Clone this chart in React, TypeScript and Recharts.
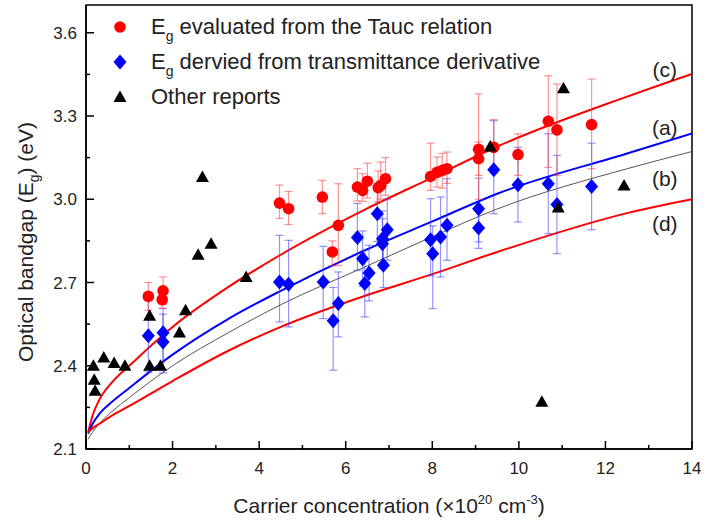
import {
  ComposedChart,
  Line,
  Scatter,
  XAxis,
  YAxis,
  ErrorBar,
  ReferenceArea,
  ReferenceDot,
  Legend,
  Label,
} from 'recharts'

const FONT = '"Liberation Sans", Arial, Helvetica, sans-serif'

// Tauc relation (red circles): carrier conc. (1e20 cm^-3), Eg (eV), error bars
const taucX = [1.44, 1.78, 1.76, 4.47, 4.68, 5.46, 5.69, 5.83, 6.27, 6.39, 6.5, 6.75, 6.81, 6.92, 7.96, 8.11, 8.23, 8.34, 9.07, 9.07, 9.42, 9.98, 10.68, 10.88, 11.68]
const taucY = [2.65, 2.67, 2.638, 2.986, 2.966, 3.008, 2.81, 2.906, 3.044, 3.032, 3.065, 3.042, 3.05, 3.074, 3.082, 3.097, 3.104, 3.11, 3.18, 3.146, 3.187, 3.161, 3.281, 3.25, 3.269]
const taucErrLow = [0.05, 0.05, 0.03, 0.055, 0.057, 0.06, 0.05, 0.145, 0.05, 0.04, 0.06, 0.05, 0.05, 0.06, 0.05, 0.053, 0.064, 0.053, 0.18, 0.06, 0.094, 0.075, 0.166, 0.164, 0.159]
const taucErrHigh = [0.05, 0.05, 0.03, 0.065, 0.062, 0.06, 0.04, 0.15, 0.066, 0.06, 0.065, 0.06, 0.084, 0.076, 0.12, 0.055, 0.061, 0.06, 0.2, 0.06, 0.1, 0.075, 0.164, 0.165, 0.164]

// transmittance derivative (blue diamonds)
const derivX = [1.44, 1.78, 1.78, 4.47, 4.68, 5.48, 5.71, 5.83, 6.27, 6.39, 6.44, 6.54, 6.73, 6.85, 6.85, 6.87, 6.96, 7.96, 8.01, 8.19, 8.34, 9.07, 9.07, 9.42, 9.98, 10.68, 10.88, 11.68]
const derivY = [2.508, 2.519, 2.486, 2.702, 2.694, 2.702, 2.562, 2.624, 2.862, 2.786, 2.696, 2.734, 2.948, 2.858, 2.84, 2.762, 2.89, 2.854, 2.804, 2.864, 2.906, 2.966, 2.896, 3.106, 3.052, 3.056, 2.981, 3.046]
const derivErrLow = [0.13, 0.145, 0.1, 0.144, 0.154, 0.132, 0.178, 0.12, 0.118, 0.1, 0.12, 0.1, 0.1, 0.1, 0.09, 0.08, 0.11, 0.13, 0.198, 0.144, 0.126, 0.12, 0.073, 0.158, 0.134, 0.18, 0.177, 0.156]
const derivErrHigh = [0.128, 0.087, 0.1, 0.168, 0.158, 0.128, 0.12, 0.114, 0.123, 0.1, 0.12, 0.1, 0.1, 0.1, 0.09, 0.08, 0.11, 0.148, 0.1, 0.144, 0.168, 0.11, 0.07, 0.177, 0.135, 0.18, 0.177, 0.156]

// other reports (black triangles)
const otherX = [0.17, 0.19, 0.21, 0.41, 0.65, 0.9, 1.47, 1.47, 1.72, 2.16, 2.3, 2.59, 2.69, 2.89, 3.7, 9.34, 10.53, 10.91, 11.03, 12.43]
const otherY = [2.4, 2.35, 2.31, 2.43, 2.41, 2.4, 2.4, 2.58, 2.4, 2.52, 2.6, 2.8, 3.08, 2.84, 2.72, 3.19, 2.27, 2.97, 3.4, 3.05]

const curveX = [0.05, 0.15, 0.3, 0.6, 1, 2, 3.3, 4.5, 6.5, 8, 9.5, 12.5, 14]
const curveA = [2.155, 2.19, 2.225, 2.27, 2.32, 2.44, 2.57, 2.67, 2.82, 2.92, 3.02, 3.165, 3.237]
const curveB = [2.135, 2.16, 2.19, 2.235, 2.285, 2.4, 2.52, 2.62, 2.76, 2.865, 2.965, 3.11, 3.172]
const curveC = [2.16, 2.22, 2.275, 2.34, 2.4, 2.54, 2.685, 2.8, 2.967, 3.078, 3.19, 3.37, 3.452]
const curveD = [2.16, 2.175, 2.19, 2.22, 2.255, 2.345, 2.455, 2.54, 2.655, 2.73, 2.81, 2.95, 3.0]

const curveNames = ['(c)', '(a)', '(b)', '(d)']
const curveNameY = [3.469, 3.26, 3.073, 2.911]

const xTicks = [0, 1, 2, 3, 4, 5, 6, 7, 8, 9, 10, 11, 12, 13, 14]
const yTicks = [2.1, 2.25, 2.4, 2.55, 2.7, 2.85, 3.0, 3.15, 3.3, 3.45, 3.6]

const points = (xs: number[], ys: number[], lo?: number[], hi?: number[]) =>
  xs.map((x, i) => ({ x, y: ys[i], err: lo && hi ? [lo[i], hi[i]] : undefined }))

const curve = (ys: number[]) => curveX.map((x, i) => ({ x, y: ys[i] }))

const taucData = points(taucX, taucY, taucErrLow, taucErrHigh)
const derivData = points(derivX, derivY, derivErrLow, derivErrHigh)
const otherData = points(otherX, otherY)

const Circle = ({ cx, cy }: any) => <circle cx={cx} cy={cy} r={5.8} fill="#ff0000" />
const Diamond = ({ cx, cy }: any) => (
  <polygon points={`${cx},${cy - 7.5} ${cx + 6.5},${cy} ${cx},${cy + 7.5} ${cx - 6.5},${cy}`} fill="#0000ff" />
)
const Triangle = ({ cx, cy }: any) => (
  <polygon points={`${cx},${cy - 6.5} ${cx + 6.5},${cy + 5} ${cx - 6.5},${cy + 5}`} fill="#000" />
)

function XTick({ x, y, payload }: any) {
  const major = payload.value % 2 === 0
  return (
    <g>
      <line x1={x} x2={x} y1={y} y2={y - (major ? 8 : 4)} stroke="#000" strokeWidth={1.5} />
      {major && (
        <text x={x} y={y + 25} textAnchor="middle" fontSize={17} fill="#222" fontFamily={FONT}>
          {payload.value}
        </text>
      )}
    </g>
  )
}

function YTick({ x, y, payload }: any) {
  const major = Math.round(payload.value * 100) % 30 === 0
  return (
    <g>
      <line x1={x} x2={x + (major ? 8 : 4)} y1={y} y2={y} stroke="#000" strokeWidth={1.5} />
      {major && (
        <text x={x - 9} y={y + 6} textAnchor="end" fontSize={17} fill="#222" fontFamily={FONT}>
          {payload.value.toFixed(1)}
        </text>
      )}
    </g>
  )
}

const legendRows = [
  { sym: <circle cx={10} cy={10} r={5.8} fill="#ff0000" />, text: 'evaluated from the Tauc relation', eg: true },
  { sym: <polygon points="10,2.5 16.5,10 10,17.5 3.5,10" fill="#0000ff" />, text: 'dervied from transmittance derivative', eg: true },
  { sym: <polygon points="10,3.5 16.5,15 3.5,15" fill="#000" />, text: 'Other reports', eg: false },
]

function LegendBox() {
  return (
    <div style={{ fontFamily: FONT, fontSize: 22, color: '#222' }}>
      {legendRows.map((r, i) => (
        <div key={i} style={{ height: 35, display: 'flex', alignItems: 'center', whiteSpace: 'nowrap' }}>
          <svg width={20} height={20} style={{ marginRight: 21 }}>
            {r.sym}
          </svg>
          {r.eg ? (
            <span>
              E<span style={{ fontSize: 14, position: 'relative', top: 7 }}>g</span> {r.text}
            </span>
          ) : (
            <span>{r.text}</span>
          )}
        </div>
      ))}
    </div>
  )
}

export default function App() {
  return (
    <div style={{ position: 'absolute', left: 0, top: 0, background: '#fff' }}>
      <ComposedChart width={706} height={524} margin={{ top: 5, right: 14, bottom: 15, left: 0 }}>
        <XAxis
          type="number"
          dataKey="x"
          domain={[0, 14]}
          ticks={xTicks}
          interval={0}
          allowDataOverflow
          height={60}
          tickSize={0}
          tickMargin={0}
          tickLine={false}
          axisLine={{ stroke: '#000', strokeWidth: 1.5 }}
          tick={<XTick />}
        >
          <Label
            content={({ viewBox }: any) => (
              <text
                x={viewBox.x + viewBox.width / 2}
                y={513}
                textAnchor="middle"
                fontSize={21}
                fill="#222"
                fontFamily={FONT}
              >
                Carrier concentration (×10
                <tspan dy={-9} fontSize={13}>20</tspan>
                <tspan dy={9}> cm</tspan>
                <tspan dy={-9} fontSize={13}>-3</tspan>
                <tspan dy={9}>)</tspan>
              </text>
            )}
          />
        </XAxis>
        <YAxis
          type="number"
          dataKey="y"
          domain={[2.1, 3.7]}
          ticks={yTicks}
          interval={0}
          allowDataOverflow
          width={86}
          tickSize={0}
          tickMargin={0}
          tickLine={false}
          axisLine={{ stroke: '#000', strokeWidth: 1.5 }}
          tick={<YTick />}
        >
          <Label
            content={() => (
              <text
                transform="rotate(-90)"
                x={-242}
                y={33}
                textAnchor="middle"
                fontSize={21}
                fill="#222"
                fontFamily={FONT}
              >
                Optical bandgap (E
                <tspan dy={6} fontSize={14}>g</tspan>
                <tspan dy={-6}>) (eV)</tspan>
              </text>
            )}
          />
        </YAxis>
        <ReferenceArea x1={0} x2={14} y1={2.1} y2={3.7} fill="none" stroke="#000" strokeWidth={1.5} />

        <Line data={curve(curveC)} dataKey="y" type="monotone" stroke="#ff0000" strokeWidth={2} dot={false} isAnimationActive={false} />
        <Line data={curve(curveA)} dataKey="y" type="monotone" stroke="#0000ff" strokeWidth={2} dot={false} isAnimationActive={false} />
        <Line data={curve(curveB)} dataKey="y" type="monotone" stroke="#555" strokeWidth={1} dot={false} isAnimationActive={false} />
        <Line data={curve(curveD)} dataKey="y" type="monotone" stroke="#ff0000" strokeWidth={2} dot={false} isAnimationActive={false} />

        <Scatter data={derivData} dataKey="y" shape={<Diamond />} isAnimationActive={false}>
          <ErrorBar dataKey="err" direction="y" width={4} stroke="rgba(60,60,255,0.55)" strokeWidth={1.2} />
        </Scatter>
        <Scatter data={taucData} dataKey="y" shape={<Circle />} isAnimationActive={false}>
          <ErrorBar dataKey="err" direction="y" width={4} stroke="rgba(255,60,60,0.55)" strokeWidth={1.2} />
        </Scatter>
        <Scatter data={otherData} dataKey="y" shape={<Triangle />} isAnimationActive={false} />

        {curveNames.map((n, i) => (
          <ReferenceDot
            key={n}
            x={13.37}
            y={curveNameY[i]}
            r={0}
            stroke="none"
            label={{ value: n, position: 'center', fontSize: 21, fill: '#222', fontFamily: FONT }}
          />
        ))}

        <Legend
          content={<LegendBox />}
          layout="horizontal"
          verticalAlign="middle"
          align="center"
          wrapperStyle={{ position: 'absolute', top: 9, left: 110, width: 'auto' }}
        />
      </ComposedChart>
    </div>
  )
}
